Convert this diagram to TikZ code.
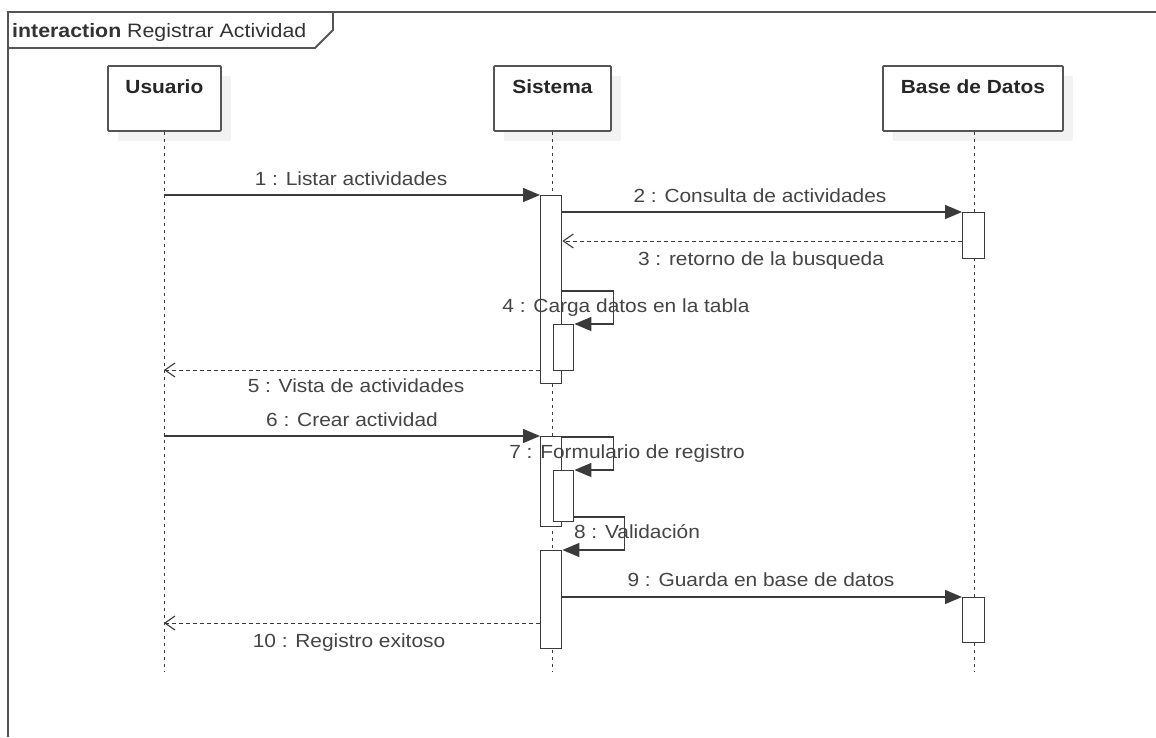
\documentclass[tikz,border=0pt]{standalone}
\usepackage{fontspec}
\setmainfont[FakeStretch=1.1]{Liberation Sans}
\usetikzlibrary{arrows.meta,shadows}

\definecolor{linegray}{HTML}{3A3A3A}
\definecolor{boxgray}{HTML}{555555}
\definecolor{textgray}{HTML}{444444}
\definecolor{shadegray}{HTML}{F2F2F2}

\tikzset{
  frameline/.style={draw=boxgray, line width=1.8pt},
  headbox/.style={draw=boxgray, line width=1.8pt, fill=white, rounded corners=1pt,
    inner sep=0pt, anchor=north west,
    drop shadow={shadow xshift=10pt, shadow yshift=-10pt, fill=shadegray, opacity=1}},
  headtext/.style={font=\fontsize{19}{22}\selectfont\bfseries, text=black!85, anchor=base, inner sep=0pt},
  lifeline/.style={draw=linegray, line width=0.9pt, dash pattern=on 3.5pt off 3.5pt},
  actbox/.style={draw=linegray, line width=1.4pt, fill=white, inner sep=0pt, anchor=north west},
  sync/.style={draw=linegray, line width=1.4pt, -{Triangle[length=17pt,width=14pt]}},
  ret/.style={draw=linegray, line width=1pt, dash pattern=on 4pt off 3pt,
    -{Straight Barb[length=10pt,width=14pt,line width=1.1pt]}},
  msg/.style={font=\fontsize{19}{22}\selectfont, text=textgray, anchor=base, inner sep=0pt},
}

\begin{document}
\begin{tikzpicture}[x=1pt,y=-1pt]
\useasboundingbox (0,0) rectangle (1156,737);
\fill[white] (0,0) rectangle (1156,737);

% interaction frame with its name tab
\draw[frameline] (8,737) -- (8,12) -- (1156,12);
\draw[frameline] (8,48) -- (315,48) -- (333,30) -- (333,12);
\node[msg, anchor=base west, text=black!80, font=\fontsize{19.4}{22}\selectfont] (title) at (12,37)
  {\textbf{interaction} Registrar Actividad};

% lifeline heads
\node[headbox, minimum width=113pt, minimum height=65pt] (usr) at (107,65) {};
\node[headbox, minimum width=117pt, minimum height=65pt] (sys) at (493,65) {};
\node[headbox, minimum width=180pt, minimum height=65pt] (db)  at (882,65) {};
\node[headtext] (usrT) at (usr.center |- 0,93) {Usuario};
\node[headtext] (sysT) at (sys.center |- 0,93) {Sistema};
\node[headtext] (dbT)  at (db.center |- 0,93) {Base de Datos};

% lifelines
\coordinate (usrL) at (164,0);
\coordinate (sysL) at (552,0);
\coordinate (dbL)  at (974,0);
\coordinate (usrEnd) at (164,672);
\coordinate (sysEnd) at (552,672);
\coordinate (dbEnd)  at (974,672);
\draw[lifeline] (usrL |- usr.south) -- (usrEnd);
\draw[lifeline] (sysL |- sys.south) -- (sysEnd);
\draw[lifeline] (dbL |- db.south) -- (dbEnd);

% activations
\node[actbox, minimum width=21pt, minimum height=188pt] (act1)  at (540,195) {};
\node[actbox, minimum width=22pt, minimum height=46pt]  (db1)   at (962,212) {};
\node[actbox, minimum width=20pt, minimum height=46pt]  (act1n) at (553,324) {};
\node[actbox, minimum width=21pt, minimum height=90pt]  (act2)  at (540,436) {};
\node[actbox, minimum width=20pt, minimum height=51pt]  (act2n) at (553,470) {};
\node[actbox, minimum width=21pt, minimum height=98pt]  (act3)  at (540,550) {};
\node[actbox, minimum width=22pt, minimum height=45pt]  (db2)   at (962,597) {};

% message rows
\coordinate (y3)  at (0,241);
\coordinate (y4)  at (0,291);
\coordinate (y5)  at (0,370);
\coordinate (y8)  at (0,517);
\coordinate (y10) at (0,623);

% messages
\draw[sync] (usrL |- act1.north west) -- (act1.north west);
\draw[sync] (act1.east |- db1.north west) -- (db1.north west);
\draw[ret]  (db1.west |- y3) -- (act1.east |- y3);
\draw[sync] (act1.east |- y4) -- ++(51,0) |- (act1n.north east);
\draw[ret]  (act1.west |- y5) -- (usrL |- y5);
\draw[sync] (usrL |- act2.north west) -- (act2.north west);
\draw[sync] ([yshift=-1pt]act2.north east) -- ++(51,0) |- (act2n.north east);
\draw[sync] (act2n.east |- y8) -- ++(50,0) |- (act3.north east);
\draw[sync] (act3.east |- db2.north west) -- (db2.north west);
\draw[ret]  (act3.west |- y10) -- (usrL |- y10);

% message labels
\node[msg] (l1)  at (351,185) {1 : Listar actividades};
\node[msg] (l2)  at (760,202) {2 : Consulta de actividades};
\node[msg] (l3)  at (761,265) {3 : retorno de la busqueda};
\node[msg] (l4)  at (626,312) {4 : Carga datos en la tabla};
\node[msg] (l5)  at (356,392) {5 : Vista de actividades};
\node[msg] (l6)  at (352,426) {6 : Crear actividad};
\node[msg] (l7)  at (627,458) {7 : Formulario de registro};
\node[msg] (l8)  at (637,538) {8 : Validación};
\node[msg] (l9)  at (761,586) {9 : Guarda en base de datos};
\node[msg] (l10) at (349,647) {10 : Registro exitoso};
\end{tikzpicture}
\end{document}
